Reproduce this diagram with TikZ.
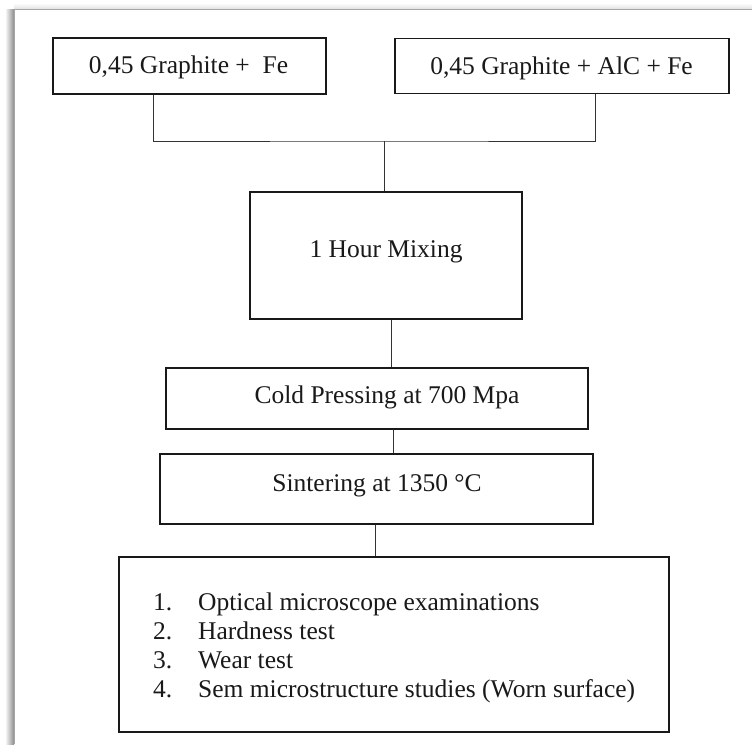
\documentclass[tikz,border=0pt]{standalone}
\usepackage{fontspec}
\setmainfont{Liberation Serif}
\usetikzlibrary{calc}
\begin{document}
\begin{tikzpicture}[x=1pt,y=-1pt,
  box/.style={draw=black!90, line width=1.4pt, inner sep=0pt, fill=white},
  lbl/.style={font=\fontsize{25.5}{29}\selectfont, inner sep=0pt, anchor=base, text=black!90},
  conn/.style={line width=0.9pt, draw=black!80}]
\useasboundingbox (0,0) rectangle (752,744);
\fill[white] (0,0) rectangle (752,744);
% page frame with shadow
\shade[left color=white, right color=black!45] (5,9) rectangle (14,744);
\shade[top color=white, bottom color=black!12] (14,3) rectangle (752,9);
\draw[black!35, line width=0.8pt] (14,744) -- (14,9) -- (752,9);
% boxes
\node (b1) [box, minimum width=273pt, minimum height=56pt] at (189.5,66) {};
\node (t1) [lbl] at (188.5,73) {0,45 Graphite +\ \ Fe};
\node (b2) [box, minimum width=334pt, minimum height=55pt] at (562,66) {};
\node (t2) [lbl] at (561.5,74) {0,45 Graphite + AlC + Fe};
\node (mix) [box, minimum width=272pt, minimum height=127pt] at (386,255.5) {};
\node (tm) [lbl] at (386,257) {1 Hour Mixing};
\node (cold) [box, minimum width=422pt, minimum height=61pt] at (377,398.5) {};
\node (tc) [lbl] at (387,403) {Cold Pressing at 700 Mpa};
\node (sint) [box, minimum width=433pt, minimum height=70pt] at (376.5,489) {};
\node (ts) [lbl] at (377,491) {Sintering at 1350 °C};
\node (fin) [box, minimum width=550pt, minimum height=175pt] at (394,644.5) {};
\node (list) [lbl, anchor=base west, align=left] at (153,697) {%
\makebox[45pt][l]{1.}Optical microscope examinations\\
\makebox[45pt][l]{2.}Hardness test\\
\makebox[45pt][l]{3.}Wear test\\
\makebox[45pt][l]{4.}Sem microstructure studies (Worn surface)};
% connectors
\coordinate (j) at (384,141);
\coordinate (s1) at ([xshift=-36.5pt]b1.south);
\coordinate (s2) at ([xshift=33pt]b2.south);
\draw[conn] (s1) |- (j) -| (s2);
\draw[conn] (j) -- (j |- mix.north);
\coordinate (m1) at ([xshift=5pt]mix.south);
\draw[conn] (m1) -- (m1 |- cold.north);
\coordinate (c1) at ([xshift=16pt]cold.south);
\draw[conn] (c1) -- (c1 |- sint.north);
\coordinate (p1) at ([xshift=-1.5pt]sint.south);
\draw[conn] (p1) -- (p1 |- fin.north);
\end{tikzpicture}
\end{document}
